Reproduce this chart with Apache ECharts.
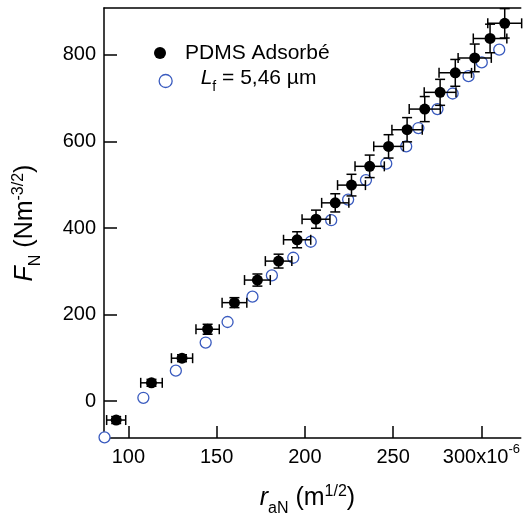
<!DOCTYPE html>
<html>
<head>
<meta charset="utf-8">
<script src="https://cdn.jsdelivr.net/npm/echarts@6/dist/echarts.min.js"></script>
<style>
html,body{margin:0;padding:0;background:#fff;}
#chart{width:523px;height:522px;}
</style>
</head>
<body>
<div id="chart"></div>
<script>
// ---- data ----
const seriesNames = ['PDMS Adsorbé', 'Lf = 5,46 µm'];
const xFilled = [93.1, 113.1, 130.4, 144.9, 160.1, 173.1, 185.1, 195.6, 206.3, 217.2, 226.4, 236.7, 247.4, 257.9, 267.9, 276.6, 285.2, 296.2, 304.9, 313.2];
const yFilled = [-43.8, 42.2, 99.1, 166, 227.5, 279.7, 323.5, 372.8, 420.3, 458.1, 499.1, 542.5, 588.6, 627.1, 674.8, 713.5, 758.5, 793.1, 838, 873];
const xErr = [5.4, 6.1, 6.0, 6.6, 7.0, 7.3, 7.5, 7.7, 7.9, 7.7, 7.9, 8.3, 8.4, 8.6, 8.8, 9.0, 9.2, 9.4, 9.5, 9.6];
const yErr = [8, 8, 8, 11.5, 11.5, 14, 16, 18.5, 21, 21, 25, 26, 27, 28, 29, 30, 31, 32, 33, 34];
const xOpen = [86.5, 108.5, 126.9, 143.8, 156.2, 170.3, 181.3, 193.4, 203.3, 214.9, 224.5, 234.6, 246.1, 257.4, 264.3, 275.1, 283.7, 292.7, 300.2, 310.1];
const yOpen = [-83.7, 7.6, 70.3, 135.3, 182.8, 241.4, 290.5, 331.3, 368.2, 418, 465.7, 510.7, 548.7, 588.6, 631, 674.8, 710.8, 750.9, 782.7, 812.2];
const xTicks = [100, 150, 200, 250, 300];
const yTicks = [0, 200, 400, 600, 800];

const FONT = '"Liberation Sans", Arial, Helvetica, sans-serif';
const BLUE = '#3a5bbf';

const filledData = xFilled.map((x, i) => [x, yFilled[i]]);
const openData = xOpen.map((x, i) => [x, yOpen[i]]);
const errData = xFilled.map((x, i) => [x, yFilled[i], xErr[i], yErr[i]]);

function richSet(size, subSize, base, supLift) {
  return {
    n: {fontSize: size, fontFamily: FONT, color: '#000', verticalAlign: 'bottom', padding: [0, 0, base, 0]},
    it: {fontSize: size, fontFamily: FONT, color: '#000', fontStyle: 'italic', verticalAlign: 'bottom', padding: [0, 0, base, 0]},
    sub: {fontSize: subSize, fontFamily: FONT, color: '#000', verticalAlign: 'bottom', padding: [0, 0, 0, 0]},
    sup: {fontSize: subSize, fontFamily: FONT, color: '#000', verticalAlign: 'bottom', padding: [0, 0, supLift, 0]}
  };
}

const chart = echarts.init(document.getElementById('chart'), null, {renderer: 'canvas'});

const option = {
  animation: false,
  backgroundColor: '#fff',
  grid: {left: 104, top: 8, right: 0, bottom: 83, containLabel: false},
  legend: [
    {
      data: [{name: seriesNames[0], icon: 'circle', itemStyle: {color: '#000', borderWidth: 0, opacity: 1}}],
      left: 154, top: 42, padding: 0, itemWidth: 40, itemHeight: 12, itemGap: 0,
      selectedMode: false,
      textStyle: {fontSize: 21, fontFamily: FONT, color: '#000', lineHeight: 22}
    },
    {
      data: [{name: seriesNames[1], icon: 'circle', itemStyle: {color: '#fff', borderColor: BLUE, borderWidth: 1.3, opacity: 1}}],
      left: 158.5, top: 68, padding: 0, itemWidth: 60, itemHeight: 13, itemGap: 0,
      selectedMode: false,
      formatter: () => '{it|L}{sub|f}{n| = 5,46 µm}',
      textStyle: {fontSize: 21, fontFamily: FONT, color: '#000', rich: richSet(21, 14, 5, 15)}
    }
  ],
  xAxis: [
    {
      type: 'value', min: 86.2, max: 322.3, position: 'bottom',
      name: '{it|r}{sub|aN}{n| (m}{sup|1/2}{n|)}',
      nameLocation: 'middle', nameGap: 46,
      nameTextStyle: {fontSize: 25, fontFamily: FONT, color: '#000', padding: [0, 10, 0, 0], rich: richSet(25, 16, 6, 17)},
      axisLine: {show: true, onZero: false, lineStyle: {color: '#000', width: 1.5}},
      axisTick: {show: true, inside: true, length: 12, customValues: xTicks, lineStyle: {color: '#000', width: 1.5}},
      axisLabel: {
        show: true, margin: 5, customValues: xTicks,
        fontSize: 20, fontFamily: FONT, color: '#000',
        formatter: v => v === 300 ? '{n|300x10}{sup|-6}' : '{n|' + v + '}{sup|\u200b}',
        rich: {
          n: {fontSize: 20, fontFamily: FONT, color: '#000', verticalAlign: 'bottom', padding: [0, 0, 0, 0]},
          sup: {fontSize: 13, fontFamily: FONT, color: '#000', verticalAlign: 'bottom', padding: [0, 0, 11, 0]}
        }
      },
      splitLine: {show: false}
    },
    {
      type: 'value', min: 86.2, max: 322.3, position: 'top',
      axisLine: {show: true, onZero: false, lineStyle: {color: '#000', width: 1.5}},
      axisTick: {show: false}, axisLabel: {show: false}, splitLine: {show: false}
    }
  ],
  yAxis: {
    type: 'value', min: -85.3, max: 908.4,
    name: '{it|F}{sub|N}{n| (Nm}{sup|-3/2}{n|)}',
    nameLocation: 'middle', nameGap: 60,
    nameTextStyle: {fontSize: 25, fontFamily: FONT, color: '#000', rich: richSet(25, 16, 6, 17)},
    axisLine: {show: true, onZero: false, lineStyle: {color: '#000', width: 1.5}},
    axisTick: {show: true, inside: true, length: 13, customValues: yTicks, lineStyle: {color: '#000', width: 1.5}},
    axisLabel: {show: true, margin: 8, customValues: yTicks, fontSize: 20, fontFamily: FONT, color: '#000'},
    splitLine: {show: false}
  },
  series: [
    {
      name: seriesNames[1], type: 'scatter', data: openData, symbol: 'circle', symbolSize: 11,
      itemStyle: {color: '#fff', borderColor: BLUE, borderWidth: 1.3, opacity: 1}, z: 2, clip: false
    },
    {
      name: 'err', type: 'custom', data: errData, z: 3, clip: false,
      renderItem: function (params, api) {
        const x = api.value(0), y = api.value(1), ex = api.value(2), ey = api.value(3);
        const c = api.coord([x, y]);
        const l = api.coord([x - ex, y]), r = api.coord([x + ex, y]);
        const t = api.coord([x, y + ey]), b = api.coord([x, y - ey]);
        const cap = 5;
        const st = {stroke: '#000', lineWidth: 1.5};
        return {
          type: 'group',
          children: [
            {type: 'line', shape: {x1: l[0], y1: c[1], x2: r[0], y2: c[1]}, style: st},
            {type: 'line', shape: {x1: l[0], y1: c[1] - cap, x2: l[0], y2: c[1] + cap}, style: st},
            {type: 'line', shape: {x1: r[0], y1: c[1] - cap, x2: r[0], y2: c[1] + cap}, style: st},
            {type: 'line', shape: {x1: c[0], y1: t[1], x2: c[0], y2: b[1]}, style: st},
            {type: 'line', shape: {x1: c[0] - cap, y1: t[1], x2: c[0] + cap, y2: t[1]}, style: st},
            {type: 'line', shape: {x1: c[0] - cap, y1: b[1], x2: c[0] + cap, y2: b[1]}, style: st}
          ]
        };
      }
    },
    {
      name: seriesNames[0], type: 'scatter', data: filledData, symbol: 'circle', symbolSize: 11,
      itemStyle: {color: '#000', opacity: 1}, z: 4, clip: false
    }
  ]
};
chart.setOption(option);
</script>
</body>
</html>
